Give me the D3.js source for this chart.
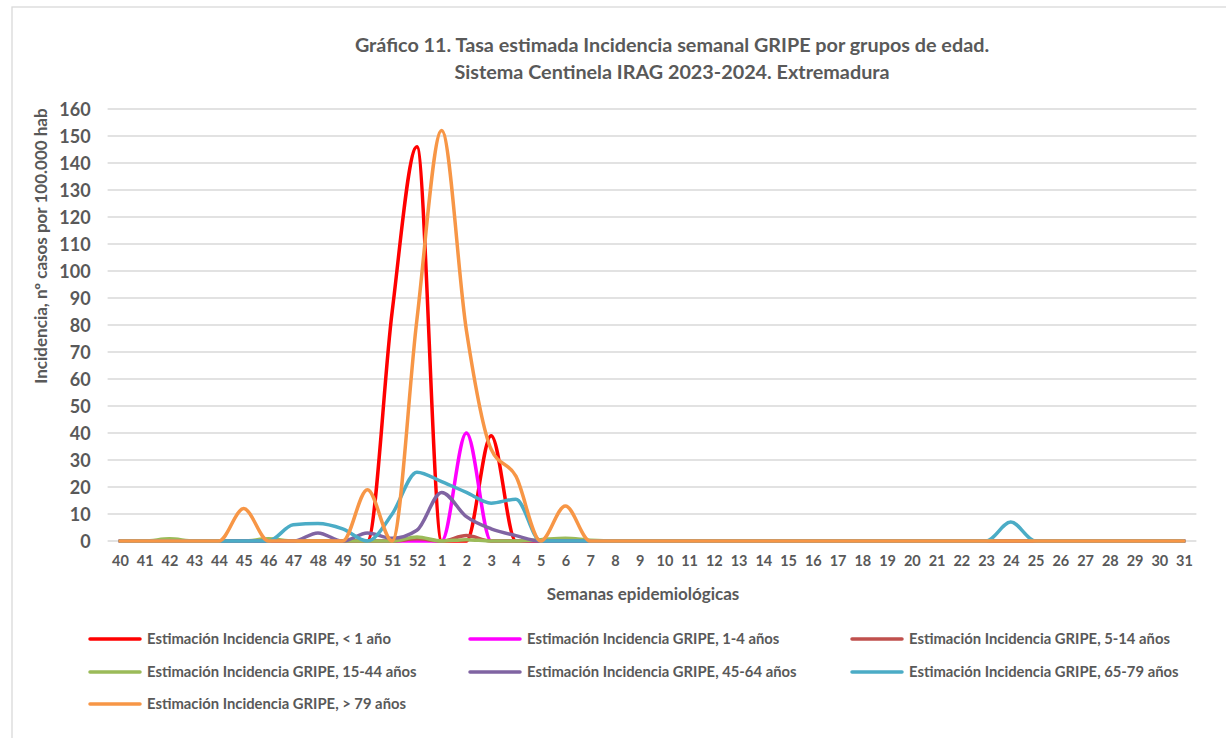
<!DOCTYPE html>
<html><head><meta charset="utf-8">
<script src="https://cdn.jsdelivr.net/npm/d3@7"></script>
<style>
body{margin:0;background:#fff;}
svg text{font-family:Lato,"Open Sans",sans-serif;font-weight:700;fill:#595959;}
</style></head><body>
<svg id="c" width="1226" height="738"></svg>
<script>
const weeks = ["40","41","42","43","44","45","46","47","48","49","50","51","52","1","2","3","4","5","6","7","8","9","10","11","12","13","14","15","16","17","18","19","20","21","22","23","24","25","26","27","28","29","30","31"];
const yTicks = [0,10,20,30,40,50,60,70,80,90,100,110,120,130,140,150,160];
const seriesNames = ["Estimación Incidencia GRIPE, < 1 año","Estimación Incidencia GRIPE, 1-4 años","Estimación Incidencia GRIPE, 5-14 años","Estimación Incidencia GRIPE, 15-44 años","Estimación Incidencia GRIPE, 45-64 años","Estimación Incidencia GRIPE, 65-79 años","Estimación Incidencia GRIPE, > 79 años"];
const seriesColors = ["#ff0000","#ff00ff","#c0504d","#9bbb59","#8064a2","#4bacc6","#f79646"];
//                  40 41 42 43 44 45 46 47 48 49 50 51  52  1   2  3   4  5  6  7  8..31
const lt1   = [0,0,0,0,0,0,0,0,0,0,0,85,146,0,0,39,0,0,0,0,0,0,0,0,0,0,0,0,0,0,0,0,0,0,0,0,0,0,0,0,0,0,0,0];
const a1_4  = [0,0,0,0,0,0,0,0,0,0,0,0,0,0,40,0,0,0,0,0,0,0,0,0,0,0,0,0,0,0,0,0,0,0,0,0,0,0,0,0,0,0,0,0];
const a5_14 = [0,0,0,0,0,0,0,0,0,0,0,0,0.8,0,2,0,0,0,0,0,0,0,0,0,0,0,0,0,0,0,0,0,0,0,0,0,0,0,0,0,0,0,0,0];
const a15_44= [0,0,0.8,0,0,0,0.8,0,0,0,0,0,1.5,0,0.5,0,0,0.5,1,0.3,0,0,0,0,0,0,0,0,0,0,0,0,0,0,0,0,0,0,0,0,0,0,0,0];
const a45_64= [0,0,0,0,0,0,0,0,3,0,3,1,4,18,9,4.5,2,0,0,0,0,0,0,0,0,0,0,0,0,0,0,0,0,0,0,0,0,0,0,0,0,0,0,0];
const a65_79= [0,0,0,0,0,0,0,6,6.5,4.5,0,10,25.5,22,18,14,15.5,0,0,0,0,0,0,0,0,0,0,0,0,0,0,0,0,0,0,0,7,0,0,0,0,0,0,0];
const gt79  = [0,0,0,0,0,12,0,0,0,0,19,0,82,152,78,34,24,0,13,0,0,0,0,0,0,0,0,0,0,0,0,0,0,0,0,0,0,0,0,0,0,0,0,0];
const seriesValues = [lt1,a1_4,a5_14,a15_44,a45_64,a65_79,gt79];

const svg = d3.select("#c");
svg.append("rect").attr("x",12).attr("y",7).attr("width",1230).attr("height",760)
  .attr("fill","none").attr("stroke","#d9d9d9").attr("stroke-width",1.3);

const L=107.6, R=1196.4, T=109, B=541;
const x = d3.scalePoint().domain(weeks).range([L,R]).padding(0.5);
const y = d3.scaleLinear().domain([0,160]).range([B,T]);

svg.append("g").selectAll("line").data(yTicks).join("line")
  .attr("x1",L).attr("x2",R).attr("y1",d=>y(d)).attr("y2",d=>y(d))
  .attr("stroke","#d9d9d9").attr("stroke-width",1.3);

const yAxis = d3.axisLeft(y).tickValues(yTicks).tickSize(0).tickPadding(0);
const gy = svg.append("g").attr("transform",`translate(${L-17},0)`).call(yAxis);
gy.select(".domain").remove();
gy.selectAll("text").style("font-size","18px").attr("dy","0.35em").attr("fill","#595959");

const xAxis = d3.axisBottom(x).tickSize(0).tickPadding(0);
const gx = svg.append("g").attr("transform",`translate(0,${B+15})`).call(xAxis);
gx.select(".domain").remove();
gx.selectAll("text").style("font-size","14.5px").attr("dy","0.71em").attr("fill","#595959");

const line = d3.line().x((d,i)=>x(weeks[i])).y(d=>y(d)).curve(d3.curveMonotoneX);
svg.append("g").selectAll("path").data(seriesValues).join("path")
  .attr("d",d=>line(d)).attr("fill","none")
  .attr("stroke",(d,i)=>seriesColors[i]).attr("stroke-width",3.5)
  .attr("stroke-linejoin","round").attr("stroke-linecap","round");

svg.append("text").attr("x",672).attr("y",52).attr("text-anchor","middle").style("font-size","19.8px")
  .text("Gráfico 11. Tasa estimada Incidencia semanal GRIPE por grupos de edad.");
svg.append("text").attr("x",672).attr("y",79).attr("text-anchor","middle").style("font-size","19.8px")
  .text("Sistema Centinela IRAG 2023-2024. Extremadura");
svg.append("text").attr("x",643).attr("y",600).attr("text-anchor","middle").style("font-size","17px")
  .text("Semanas epidemiológicas");
svg.append("text").attr("transform","translate(47,246) rotate(-90)").attr("text-anchor","middle").style("font-size","17px")
  .text("Incidencia, nº casos por 100.000 hab");

const legX = [90,470,852], legY=[639,672,704];
const lg = svg.append("g").selectAll("g").data(seriesNames).join("g")
  .attr("transform",(d,i)=>`translate(${legX[i%3]},${legY[Math.floor(i/3)]})`);
lg.append("line").attr("x1",0).attr("x2",50).attr("y1",0).attr("y2",0)
  .attr("stroke",(d,i)=>seriesColors[i]).attr("stroke-width",3.5).attr("stroke-linecap","round");
lg.append("text").attr("x",57).attr("y",0).attr("dy","0.35em").style("font-size","14.8px").text(d=>d);
</script></body></html>
